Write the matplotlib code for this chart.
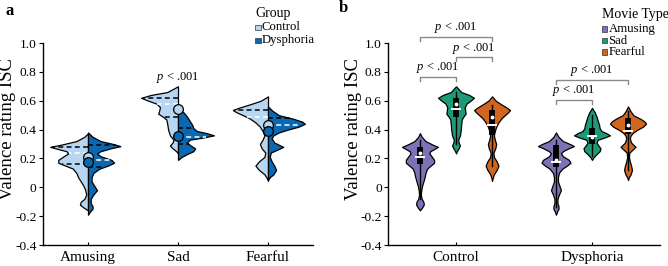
import numpy as np
import matplotlib
matplotlib.use("Agg")
import matplotlib.pyplot as plt
from matplotlib.patches import Rectangle

plt.rcParams['font.family'] = ['Liberation Serif', 'DejaVu Serif']
plt.rcParams['mathtext.fontset'] = 'custom'
plt.rcParams['mathtext.rm'] = 'Liberation Serif'
plt.rcParams['mathtext.it'] = 'Liberation Serif:italic'

movies = ["Amusing", "Sad", "Fearful"]
groups = ["Control", "Dysphoria"]

# ---- density profiles (ISC value, half width in panel-a units)
ctrl_amusing_v = [0.375, 0.35, 0.32, 0.295, 0.28, 0.265, 0.25, 0.235, 0.215, 0.19, 0.17, 0.15, 0.13, 0.10, 0.07, 0.04, 0.01, -0.02, -0.05, -0.08, -0.10, -0.12, -0.14, -0.16]
ctrl_amusing_w = [0.0, 0.04, 0.13, 0.30, 0.42, 0.33, 0.24, 0.22, 0.27, 0.33, 0.33, 0.25, 0.17, 0.13, 0.11, 0.08, 0.05, 0.03, 0.02, 0.04, 0.08, 0.09, 0.05, 0.0]
dys_amusing_v = [0.38, 0.35, 0.32, 0.30, 0.285, 0.27, 0.25, 0.235, 0.215, 0.19, 0.17, 0.15, 0.13, 0.10, 0.07, 0.04, 0.01, -0.02, -0.05, -0.08, -0.11, -0.13, -0.15, -0.17, -0.19]
dys_amusing_w = [0.0, 0.05, 0.14, 0.28, 0.36, 0.25, 0.14, 0.10, 0.14, 0.26, 0.29, 0.22, 0.13, 0.06, 0.04, 0.04, 0.07, 0.10, 0.06, 0.03, 0.03, 0.05, 0.05, 0.02, 0.0]
ctrl_sad_v = [0.70, 0.68, 0.66, 0.64, 0.62, 0.60, 0.58, 0.555, 0.53, 0.51, 0.49, 0.47, 0.44, 0.40, 0.36, 0.33, 0.31, 0.29, 0.27, 0.25, 0.235]
ctrl_sad_w = [0.0, 0.06, 0.12, 0.30, 0.41, 0.33, 0.24, 0.20, 0.21, 0.22, 0.17, 0.13, 0.12, 0.11, 0.09, 0.05, 0.06, 0.09, 0.06, 0.02, 0.0]
dys_sad_v = [0.55, 0.52, 0.49, 0.46, 0.43, 0.41, 0.39, 0.375, 0.36, 0.345, 0.33, 0.31, 0.29, 0.27, 0.25, 0.23, 0.21, 0.19]
dys_sad_w = [0.0, 0.06, 0.10, 0.13, 0.16, 0.17, 0.21, 0.32, 0.40, 0.28, 0.13, 0.10, 0.14, 0.19, 0.17, 0.10, 0.04, 0.0]
ctrl_fearful_v = [0.63, 0.60, 0.575, 0.55, 0.535, 0.52, 0.50, 0.48, 0.45, 0.42, 0.39, 0.36, 0.33, 0.30, 0.27, 0.24, 0.21, 0.18, 0.15, 0.12, 0.09, 0.06, 0.045]
ctrl_fearful_w = [0.0, 0.08, 0.20, 0.33, 0.39, 0.35, 0.28, 0.21, 0.14, 0.09, 0.06, 0.04, 0.06, 0.09, 0.07, 0.03, 0.04, 0.10, 0.14, 0.10, 0.04, 0.01, 0.0]
dys_fearful_v = [0.56, 0.53, 0.50, 0.475, 0.455, 0.44, 0.42, 0.40, 0.38, 0.36, 0.34, 0.31, 0.28, 0.26, 0.24, 0.21, 0.18, 0.15, 0.12, 0.09, 0.07, 0.05]
dys_fearful_w = [0.0, 0.05, 0.12, 0.28, 0.38, 0.41, 0.34, 0.22, 0.12, 0.06, 0.04, 0.07, 0.17, 0.10, 0.03, 0.02, 0.04, 0.07, 0.09, 0.06, 0.02, 0.0]

# ---- summary statistics (order: Amusing, Sad, Fearful)
ctrl_q1 = [0.162, 0.49, 0.36]
ctrl_median = [0.236, 0.58, 0.49]
ctrl_q3 = [0.278, 0.617, 0.535]
ctrl_mean = [0.208, 0.543, 0.435]
ctrl_whisk_lo = [-0.08, 0.30, 0.15]
ctrl_whisk_hi = [0.33, 0.66, 0.57]
dys_q1 = [0.143, 0.298, 0.37]
dys_median = [0.19, 0.35, 0.43]
dys_q3 = [0.293, 0.413, 0.478]
dys_mean = [0.173, 0.358, 0.39]
dys_whisk_lo = [-0.14, 0.22, 0.12]
dys_whisk_hi = [0.33, 0.50, 0.53]

# significance brackets in panel b: (group, movie1, movie2, level)
sig_pairs = [
    ("Control", "Amusing", "Fearful", 1.04),
    ("Control", "Sad", "Fearful", 0.90),
    ("Control", "Amusing", "Sad", 0.765),
    ("Dysphoria", "Amusing", "Fearful", 0.745),
    ("Dysphoria", "Amusing", "Sad", 0.607),
]
sig_label = "$p$ < .001"
yticks = [-0.4, -0.2, 0, 0.2, 0.4, 0.6, 0.8, 1.0]
ytick_labels = ["-0.4", "-0.2", "0", "0.2", "0.4", "0.6", "0.8", "1.0"]

profiles = {
    "Control": [(ctrl_amusing_v, ctrl_amusing_w), (ctrl_sad_v, ctrl_sad_w), (ctrl_fearful_v, ctrl_fearful_w)],
    "Dysphoria": [(dys_amusing_v, dys_amusing_w), (dys_sad_v, dys_sad_w), (dys_fearful_v, dys_fearful_w)],
}
stats = {
    "Control": dict(q1=ctrl_q1, med=ctrl_median, q3=ctrl_q3, mean=ctrl_mean, lo=ctrl_whisk_lo, hi=ctrl_whisk_hi),
    "Dysphoria": dict(q1=dys_q1, med=dys_median, q3=dys_q3, mean=dys_mean, lo=dys_whisk_lo, hi=dys_whisk_hi),
}

group_colors = {"Control": "#b7d6f1", "Dysphoria": "#0b67b0"}
movie_colors = {"Amusing": "#7b73b6", "Sad": "#1d9a77", "Fearful": "#d2651f"}

W, H = 668, 266
fig = plt.figure(figsize=(W / 100, H / 100), dpi=100)
ax_a = fig.add_axes([43 / W, 21 / H, 270 / W, 202 / H])
ax_b = fig.add_axes([388 / W, 21 / H, 272 / W, 202 / H])


def width_at(v, w, level):
    return float(np.interp(level, np.array(v)[::-1], np.array(w)[::-1]))


def style_axes(ax, xt, xl):
    for s in ["top", "right"]:
        ax.spines[s].set_visible(False)
    for s in ["left", "bottom"]:
        ax.spines[s].set_linewidth(1.0)
    ax.set_ylim(-0.4, 1.0)
    ax.set_yticks(yticks)
    ax.set_yticklabels(ytick_labels, fontsize=9.7)
    ax.set_xticks(xt)
    ax.set_xticklabels(xl, fontsize=11)
    ax.tick_params(axis="y", direction="out", length=3, width=0.8, pad=1.5)
    ax.tick_params(axis="x", direction="in", length=2.5, width=0.8, pad=4)


# ---------------- panel a: split violins ----------------
ax = ax_a
for g_i, g in enumerate(groups):
    side = -1 if g == "Control" else 1
    st = stats[g]
    for i, m in enumerate(movies):
        v, w = profiles[g][i]
        v = np.array(v); w = np.array(w)
        ax.fill_betweenx(v, i, i + side * w, facecolor=group_colors[g],
                         edgecolor="black", linewidth=0.9, zorder=2)
        for key, col in [("q1", "black"), ("q3", "black"), ("med", "white")]:
            lvl = st[key][i]
            wl = width_at(v, w, lvl)
            ax.plot([i, i + side * wl * 0.97], [lvl, lvl], color=col, lw=1.1,
                    ls=(0, (3.2, 2.2)), zorder=3)
for g in groups:
    for i, m in enumerate(movies):
        ax.plot(i, stats[g]["mean"][i], "o", mfc=group_colors[g], mec="black",
                mew=0.9, ms=7, zorder=5)
ax.text(1, 0.764, sig_label, ha="center", va="center", fontsize=9)
ax.set_xlim(-0.5, 2.5)
style_axes(ax, range(3), movies)

# ---------------- panel b: full violins ----------------
ax = ax_b
offsets = [-0.265, 0.0, 0.265]
target_half = 0.132
for j, g in enumerate(groups):
    st = stats[g]
    for i, m in enumerate(movies):
        v, w = profiles[g][i]
        v = np.array(v); w = np.array(w) / max(w) * target_half
        x = j + offsets[i]
        ax.fill_betweenx(v, x - w, x + w, facecolor=movie_colors[m],
                         edgecolor="black", linewidth=0.9, zorder=2)
        ax.plot([x, x], [st["lo"][i], st["hi"][i]], color="black", lw=1.0, zorder=3)
        ax.plot([x, x], [st["q1"][i], st["q3"][i]], color="black", lw=4.2,
                solid_capstyle="butt", zorder=4)
        ax.plot([x - 0.03, x + 0.03], [st["mean"][i], st["mean"][i]], color="white",
                lw=1.4, zorder=5)
        ax.plot(x, st["med"][i], "o", color="white", ms=1.8, zorder=6)

for g, m1, m2, lvl in sig_pairs:
    j = groups.index(g)
    x1 = j + offsets[movies.index(m1)]
    x2 = j + offsets[movies.index(m2)]
    ax.plot([x1, x1, x2, x2], [lvl - 0.028, lvl, lvl, lvl - 0.028], color="#8a8a8a",
            lw=1.0, clip_on=False, zorder=3)
    ax.text((x1 + x2) / 2, lvl + 0.012, sig_label, ha="center", va="bottom",
            fontsize=9, clip_on=False)
ax.set_xlim(-0.5, 1.5)
style_axes(ax, range(2), groups)

# ---------------- labels ----------------
fig.text(7.5 / W, 1 - 129 / H, "Valence rating ISC", rotation=90, ha="center",
         va="center", fontsize=13.5)
fig.text(353 / W, 1 - 129 / H, "Valence rating ISC", rotation=90, ha="center",
         va="center", fontsize=13.5)
fig.text(5 / W, 1 - 11 / H, "a", fontweight="bold", fontsize=12, ha="left", va="center")
fig.text(339 / W, 1 - 8 / H, "b", fontweight="bold", fontsize=12, ha="left", va="center")


def legend(x0, ytitle, title, names, colors, ys):
    fig.text(x0 / W, 1 - ytitle / H, title, fontsize=10, ha="left", va="center")
    for n, c, yy in zip(names, colors, ys):
        fig.add_artist(Rectangle((x0 / W, 1 - (yy + 2.6) / H), 5.2 / W, 5.2 / H,
                                 transform=fig.transFigure, facecolor=c,
                                 edgecolor="#333333", linewidth=0.5))
        fig.text((x0 + 6.5) / W, 1 - yy / H, n, fontsize=9.2, ha="left", va="center")


legend(255.5, 14, "Group", groups, [group_colors[g] for g in groups], [27.5, 40.5])
legend(602, 14.5, "Movie Type", movies, [movie_colors[m] for m in movies], [29, 40.5, 52])

fig.savefig("out.png", dpi=100)
